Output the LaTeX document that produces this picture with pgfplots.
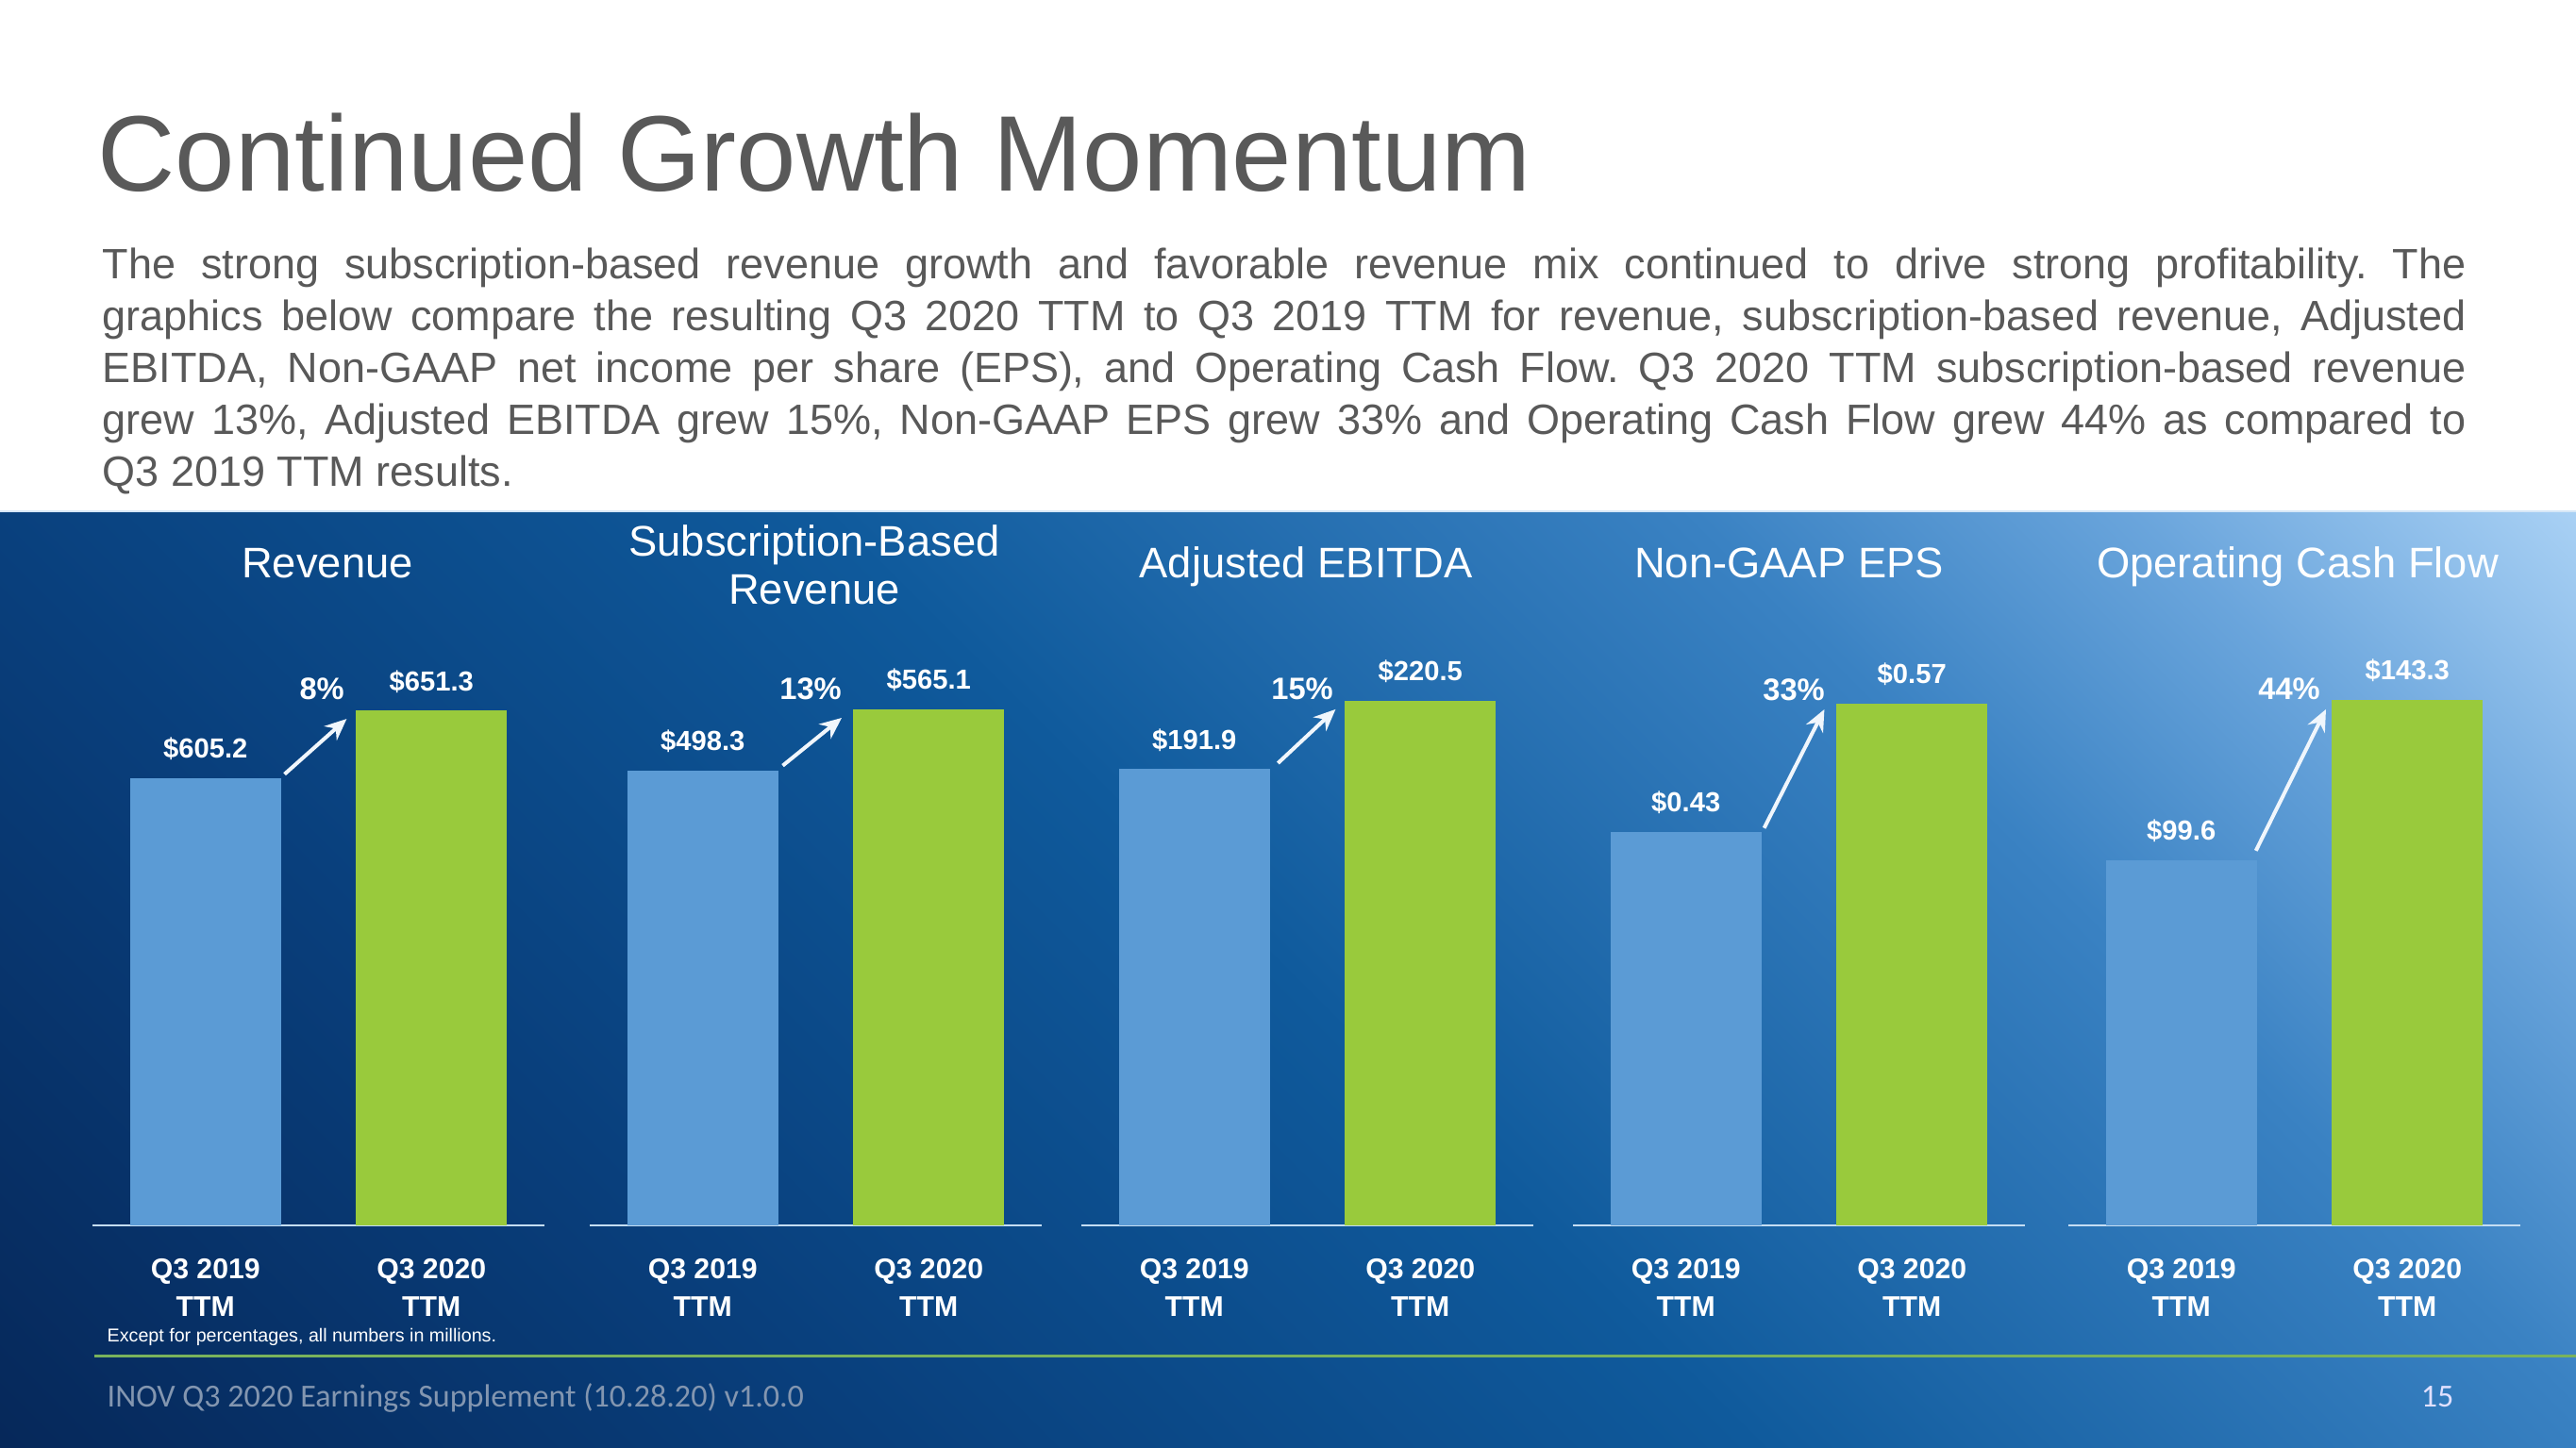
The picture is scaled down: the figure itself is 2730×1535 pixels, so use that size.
\documentclass[border=0pt]{standalone}
\usepackage{fontspec}
\setmainfont{Liberation Sans}
\newfontfamily\footfont{Carlito}
\usepackage{pgfplots}
\pgfplotsset{compat=1.18}
\usetikzlibrary{arrows.meta}

\definecolor{titlegray}{HTML}{595959}
\definecolor{barblue}{HTML}{5B9BD5}
\definecolor{bargreen}{HTML}{99CA3C}
\definecolor{baseln}{HTML}{C4DDF3}
\definecolor{pa}{HTML}{06285A}
\definecolor{pb}{HTML}{093F7C}
\definecolor{pc}{HTML}{0F5A9C}
\definecolor{pd}{HTML}{3A82C3}
\definecolor{pe}{HTML}{6AA5DC}
\definecolor{pf}{HTML}{A8D0F4}
\definecolor{sepgreen}{HTML}{79B35C}
\definecolor{foot}{HTML}{8396B0}
\definecolor{arrowc}{HTML}{F0F6FC}

\pgfdeclareverticalshading{panelshade}{100bp}{color(0bp)=(pa); color(14.6bp)=(pa); color(32.3bp)=(pb); color(50bp)=(pc); color(67.7bp)=(pd); color(76.6bp)=(pe); color(85.4bp)=(pf); color(100bp)=(pf)}

\pgfplotsset{
  grp/.style={
    scale only axis, width=47.9mm, height=72mm,
    xmin=-0.5, xmax=1.5, ymin=0,
    axis x line*=bottom, axis y line=none,
    x axis line style={draw=baseln, line width=0.25mm, -},
    xtick={0,1},
    xticklabels={{Q3 2019\\TTM},{Q3 2020\\TTM}},
    major tick length=0pt,
    xticklabel style={font=\fontsize{8.6}{11.4}\selectfont\bfseries, text=white, align=center, inner sep=0pt, anchor=north, yshift=-3.5mm},
    ytick=\empty,
    bar width=16mm,
  },
  lbl/.style={nodes near coords={\$\pgfmathprintnumber[fixed,fixed zerofill,precision=#1,assume math mode=true]{\pgfplotspointmeta}},
    every node near coord/.append style={font=\fontsize{8.3}{10}\selectfont\bfseries, text=white, anchor=base, inner sep=0pt, yshift=2.1mm}},
  bluebar/.style={ybar, bar shift=0pt, fill=barblue, draw=none},
  greenbar/.style={ybar, bar shift=0pt, fill=bargreen, draw=none},
}
\tikzset{
  growarrow/.style={draw=arrowc, line width=0.4mm, -{Stealth[length=2.3mm,width=2mm]}},
  pct/.style={anchor=base east, inner sep=0pt, text=white, font=\fontsize{9.3}{11}\selectfont\bfseries},
  gtitle/.style={anchor=base, inner sep=0pt, text=white, font=\fontsize{12.9}{14.5}\selectfont},
}

\begin{document}
\begin{tikzpicture}[x=0.1mm,y=0.1mm]
\path[use as bounding box] (0,0) rectangle (2730,1535);
\fill[white] (0,0) rectangle (2730,1535);
% blue panel
\shade[shading=panelshade, shading angle=-45] (0,0) rectangle (2730,993);
\draw[color=baseln!70!white, line width=0.15mm] (0,993) -- (2730,993);

% title and text
\node[anchor=base west, inner sep=0pt, text=titlegray, font=\fontsize{32.4}{38}\selectfont] at (103,1332) {Continued Growth Momentum};
\node[anchor=base west, inner sep=0pt, text=titlegray] at (108,1239) {\parbox[t]{250.5mm}{\fontsize{12.8}{15.6}\selectfont\frenchspacing\hyphenpenalty=10000 \exhyphenpenalty=10000 \tolerance=9999
The strong subscription-based revenue growth and favorable revenue mix continued to drive strong profitability. The\linebreak
graphics below compare the resulting Q3 2020 TTM to Q3 2019 TTM for revenue, subscription-based revenue, Adjusted\linebreak
EBITDA, Non-GAAP net income per share (EPS), and Operating Cash Flow. Q3 2020 TTM subscription-based revenue\linebreak
grew 13\%, Adjusted EBITDA grew 15\%, Non-GAAP EPS grew 33\% and Operating Cash Flow grew 44\% as compared to\linebreak
Q3 2019 TTM results.}};

% group titles
\node[gtitle] at (347,922) {Revenue};
\node[gtitle] at (863,945) {Subscription-Based};
\node[gtitle] at (863,894) {Revenue};
\node[gtitle] at (1384,922) {Adjusted EBITDA};
\node[gtitle] at (1896,922) {Non-GAAP EPS};
\node[gtitle] at (2435,922) {Operating Cash Flow};

% Revenue
\begin{axis}[grp, at={(9.8mm,23.6mm)}, anchor=south west, ymin=300, ymax=763.3]
\addplot[bluebar, lbl=1] coordinates {(0,605.2)};
\addplot[greenbar, lbl=1] coordinates {(1,651.3)};
\draw[growarrow] ([yshift=0.4mm]axis cs:0.35,605.2) -- ([yshift=-0.9mm]axis cs:0.625,651.3);
\node[pct] at (rel axis cs:0.5585,0.7736) {8\%};
\end{axis}

% Subscription-based revenue
\begin{axis}[grp, at={(62.5mm,23.6mm)}, anchor=south west, ymax=743.8]
\addplot[bluebar, lbl=1] coordinates {(0,498.3)};
\addplot[greenbar, lbl=1] coordinates {(1,565.1)};
\draw[growarrow] ([yshift=0.5mm]axis cs:0.354,498.3) -- ([yshift=-0.9mm]axis cs:0.615,565.1);
\node[pct] at (rel axis cs:0.5585,0.7736) {13\%};
\end{axis}

% Adjusted EBITDA
\begin{axis}[grp, at={(114.6mm,23.6mm)}, anchor=south west, ymax=285.5]
\addplot[bluebar, lbl=1] coordinates {(0,191.9)};
\addplot[greenbar, lbl=1] coordinates {(1,220.5)};
\draw[growarrow] ([yshift=0.6mm]axis cs:0.37,191.9) -- ([yshift=-0.9mm]axis cs:0.625,220.5);
\node[pct] at (rel axis cs:0.5585,0.7736) {15\%};
\end{axis}

% Non-GAAP EPS
\begin{axis}[grp, at={(166.7mm,23.6mm)}, anchor=south west, ymax=0.7421]
\addplot[bluebar, lbl=2] coordinates {(0,0.43)};
\addplot[greenbar, lbl=2] coordinates {(1,0.57)};
\draw[growarrow] ([yshift=0.4mm]axis cs:0.346,0.43) -- ([yshift=-0.6mm]axis cs:0.6125,0.57);
\node[pct] at (rel axis cs:0.5585,0.7736) {33\%};
\end{axis}

% Operating Cash Flow
\begin{axis}[grp, at={(219.2mm,23.6mm)}, anchor=south west, ymax=185.2]
\addplot[bluebar, lbl=1] coordinates {(0,99.6)};
\addplot[greenbar, lbl=1] coordinates {(1,143.3)};
\draw[growarrow] ([yshift=1mm]axis cs:0.33,99.6) -- ([yshift=-1mm]axis cs:0.64,143.3);
\node[pct] at (rel axis cs:0.5585,0.7736) {44\%};
\end{axis}

% footnote, separator, footer
\node[anchor=base west, inner sep=0pt, text=white, font=\fontsize{5.6}{7}\selectfont] at (113,112) {Except for percentages, all numbers in millions.};
\draw[sepgreen, line width=0.3mm] (100,97) -- (2730,97);
\node[anchor=base west, inner sep=0pt, text=foot, font=\footfont\fontsize{9.7}{11}\selectfont] at (113,43) {INOV Q3 2020 Earnings Supplement (10.28.20) v1.0.0};
\node[anchor=base east, inner sep=0pt, text=white!88!blue, font=\footfont\fontsize{9.7}{11}\selectfont] at (2601,43) {15};
\end{tikzpicture}
\end{document}
